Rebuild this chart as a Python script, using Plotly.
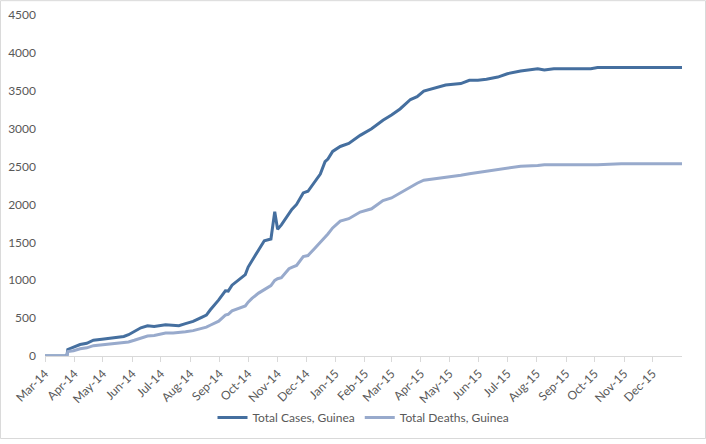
import plotly.graph_objects as go

dates = ["2014-03-01", "2014-03-24", "2014-03-25", "2014-03-31", "2014-04-07", "2014-04-14",
         "2014-04-21", "2014-04-30", "2014-05-12", "2014-05-23", "2014-05-28", "2014-06-03",
         "2014-06-10", "2014-06-17", "2014-06-24", "2014-07-06", "2014-07-14", "2014-07-20",
         "2014-07-27", "2014-08-04", "2014-08-13", "2014-08-18", "2014-08-22", "2014-08-31",
         "2014-09-07", "2014-09-10", "2014-09-14", "2014-09-22", "2014-09-28", "2014-10-01",
         "2014-10-05", "2014-10-12", "2014-10-18", "2014-10-25", "2014-10-29", "2014-11-01",
         "2014-11-05", "2014-11-13", "2014-11-16", "2014-11-21", "2014-11-28", "2014-12-03",
         "2014-12-10", "2014-12-16", "2014-12-21", "2014-12-24", "2014-12-29", "2015-01-06",
         "2015-01-15", "2015-01-27", "2015-02-08", "2015-02-20", "2015-03-01", "2015-03-10",
         "2015-03-21", "2015-03-28", "2015-04-04", "2015-04-17", "2015-04-27", "2015-05-13",
         "2015-05-22", "2015-05-31", "2015-06-09", "2015-06-21", "2015-07-01", "2015-07-15",
         "2015-08-02", "2015-08-09", "2015-08-19", "2015-09-27", "2015-10-04", "2015-10-29",
         "2016-01-01"]

total_cases = [0, 0, 86, 112, 151, 168,
               208, 221, 240, 258, 281, 328,
               372, 398, 390, 413, 400, 400,
               427, 456, 510, 540, 607, 740,
               860, 857, 935, 1021, 1074, 1174,
               1250, 1400, 1521, 1543, 1904, 1673,
               1730, 1880, 1934, 2000, 2152, 2174,
               2300, 2400, 2565, 2600, 2700, 2765,
               2804, 2912, 2999, 3112, 3180, 3260,
               3385, 3421, 3495, 3543, 3577, 3595,
               3638, 3638, 3651, 3681, 3725, 3760,
               3791, 3775, 3791, 3792, 3806, 3806,
               3806]

total_deaths = [0, 0, 59, 70, 95, 108,
                136, 146, 160, 174, 186, 208,
                236, 264, 270, 303, 305, 310,
                320, 335, 365, 380, 406, 460,
                540, 550, 595, 635, 660, 710,
                760, 830, 880, 930, 997, 1020,
                1034, 1152, 1170, 1195, 1313, 1326,
                1420, 1500, 1565, 1610, 1690, 1780,
                1812, 1900, 1943, 2051, 2086, 2151,
                2240, 2280, 2320, 2340, 2360, 2385,
                2405, 2421, 2435, 2460, 2480, 2504,
                2515, 2525, 2525, 2525, 2525, 2536,
                2536]

month_ticks = ["2014-03-01", "2014-04-01", "2014-05-01", "2014-06-01", "2014-07-01",
               "2014-08-01", "2014-09-01", "2014-10-01", "2014-11-01", "2014-12-01",
               "2015-01-01", "2015-02-01", "2015-03-01", "2015-04-01", "2015-05-01",
               "2015-06-01", "2015-07-01", "2015-08-01", "2015-09-01", "2015-10-01",
               "2015-11-01", "2015-12-01"]
month_labels = ["Mar-14", "Apr-14", "May-14", "Jun-14", "Jul-14", "Aug-14", "Sep-14",
                "Oct-14", "Nov-14", "Dec-14", "Jan-15", "Feb-15", "Mar-15", "Apr-15",
                "May-15", "Jun-15", "Jul-15", "Aug-15", "Sep-15", "Oct-15", "Nov-15",
                "Dec-15"]

fig = go.Figure()
fig.add_trace(go.Scatter(x=dates, y=total_cases, mode="lines", name="Total Cases, Guinea",
                         line=dict(color="#456F9F", width=3)))
fig.add_trace(go.Scatter(x=dates, y=total_deaths, mode="lines", name="Total Deaths, Guinea",
                         line=dict(color="#98AACC", width=3)))

fig.update_layout(
    width=706, height=444, autosize=False,
    margin=dict(l=45, r=24, t=15, b=84),
    paper_bgcolor="white", plot_bgcolor="white",
    font=dict(family="Lato, Open Sans, sans-serif", size=12, color="#595959"),
    showlegend=True,
    legend=dict(orientation="h", x=0.5, xanchor="center", y=-0.18, yanchor="middle",
                itemwidth=30, font=dict(size=12, color="#595959")),
    xaxis=dict(type="date", range=["2014-03-01", "2016-01-01"], automargin=False,
               tickvals=month_ticks, ticktext=month_labels, tickangle=-45,
               showgrid=False, showline=True, linecolor="#D9D9D9", linewidth=1,
               ticks="outside", ticklen=5, tickcolor="#D9D9D9", zeroline=False),
    yaxis=dict(range=[0, 4500], tickvals=list(range(0, 4501, 500)), automargin=False,
               showgrid=False, showline=False, zeroline=False,
               ticks="", ticklabelstandoff=8),
    shapes=[dict(type="rect", xref="paper", yref="paper",
                 x0=-0.0699, x1=1.0369, y0=-0.242, y1=1.042,
                 line=dict(color="#D9D9D9", width=1), fillcolor="rgba(0,0,0,0)",
                 layer="below")],
)

fig.write_html(
    "out.html",
    config={"displayModeBar": False, "responsive": False},
    post_script=(
        "document.documentElement.style.margin='0';"
        "document.documentElement.style.overflow='hidden';"
        "document.body.style.margin='0';"
        "document.body.style.overflow='hidden';"
        "document.body.style.height='444px';"
    ),
)
